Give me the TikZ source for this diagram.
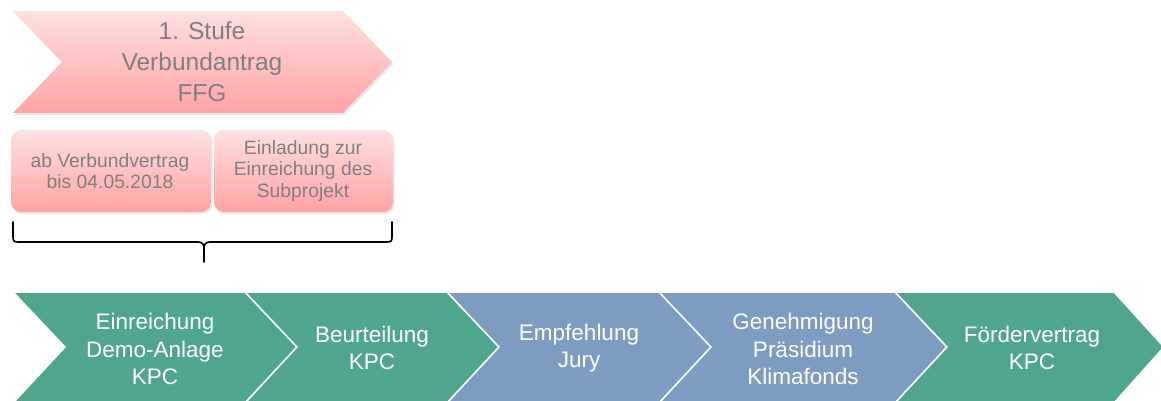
\documentclass[tikz,border=0pt]{standalone}
\usepackage{fontspec}
\setmainfont{Liberation Sans}
\usetikzlibrary{shadows}
\definecolor{pinkTop}{RGB}{255,224,224}
\definecolor{pinkBot}{RGB}{255,163,163}
\definecolor{grnC}{RGB}{79,166,141}
\definecolor{bluC}{RGB}{126,155,194}
\definecolor{txtGray}{RGB}{128,128,128}
\tikzset{
  pinkshape/.style={top color=pinkTop, bottom color=pinkBot, draw=none,
    drop shadow={opacity=0.18, shadow xshift=1.5pt, shadow yshift=-2pt}},
  grnshape/.style={fill=grnC, draw=white, line width=1.5pt, line join=miter},
  blushape/.style={fill=bluC, draw=white, line width=1.5pt, line join=miter},
  toptext/.style={align=center, text=txtGray, font=\fontsize{24.5}{31}\selectfont, inner sep=0pt},
  boxtext/.style={align=center, text=txtGray, font=\fontsize{19.3}{21.5}\selectfont, inner sep=0pt},
  chevtext/.style={align=center, text=white, font=\fontsize{22.5}{27.5}\selectfont, inner sep=0pt},
  bracestyle/.style={draw=black, line width=1.6pt, line cap=round, line join=round}
}
\begin{document}
\begin{tikzpicture}[x=1pt, y=-1pt]
\useasboundingbox (0,0) rectangle (1161,401);
\clip (0,0) rectangle (1161,401);

% top chevron
\path[pinkshape] (13,11) -- (343,11) -- (392,62) -- (343,113) -- (13,113) -- (62,62) -- cycle;
\node[toptext] (stufe) at (202,62) {1. Stufe\\Verbundantrag\\FFG};

% rounded boxes
\path[pinkshape, rounded corners=10pt] (11,130) rectangle (211,212);
\node[boxtext] (box1) at (110,171) {ab Verbundvertrag\\bis 04.05.2018};
\path[pinkshape, rounded corners=10pt] (214,130) rectangle (393,212);
\node[boxtext] (box2) at (303,171) {Einladung zur\\Einreichung des\\Subprojekt};

% brace
\coordinate (bl) at (13,222);
\coordinate (br) at (392,222);
\coordinate (bm) at (204,262);
\draw[bracestyle] (bl) -- (13,237) .. controls (13,241) and (14,242) .. (18,242)
  -- (198,242) .. controls (202,242) and (204,244) .. (204,248) -- (bm);
\draw[bracestyle] (br) -- (392,237) .. controls (392,241) and (391,242) .. (387,242)
  -- (210,242) .. controls (206,242) and (204,244) .. (204,248);

% bottom chevrons
\path[grnshape] (13,292) -- (245,292) -- (297,347) -- (245,403) -- (13,403) -- (65,347) -- cycle;
\path[grnshape] (245,292) -- (447,292) -- (499,347) -- (447,403) -- (245,403) -- (297,347) -- cycle;
\path[blushape] (447,292) -- (659,292) -- (711,347) -- (659,403) -- (447,403) -- (499,347) -- cycle;
\path[blushape] (659,292) -- (895,292) -- (947,347) -- (895,403) -- (659,403) -- (711,347) -- cycle;
\path[grnshape] (895,292) -- (1114,292) -- (1164,347) -- (1114,403) -- (895,403) -- (947,347) -- cycle;

\node[chevtext] (c1) at (155,349) {Einreichung\\Demo-Anlage\\KPC};
\node[chevtext] (c2) at (372,348) {Beurteilung\\KPC};
\node[chevtext] (c3) at (579,348) {Empfehlung\\Jury};
\node[chevtext] (c4) at (803,349) {Genehmigung\\Präsidium\\Klimafonds};
\node[chevtext] (c5) at (1032,348) {Fördervertrag\\KPC};
\end{tikzpicture}
\end{document}
